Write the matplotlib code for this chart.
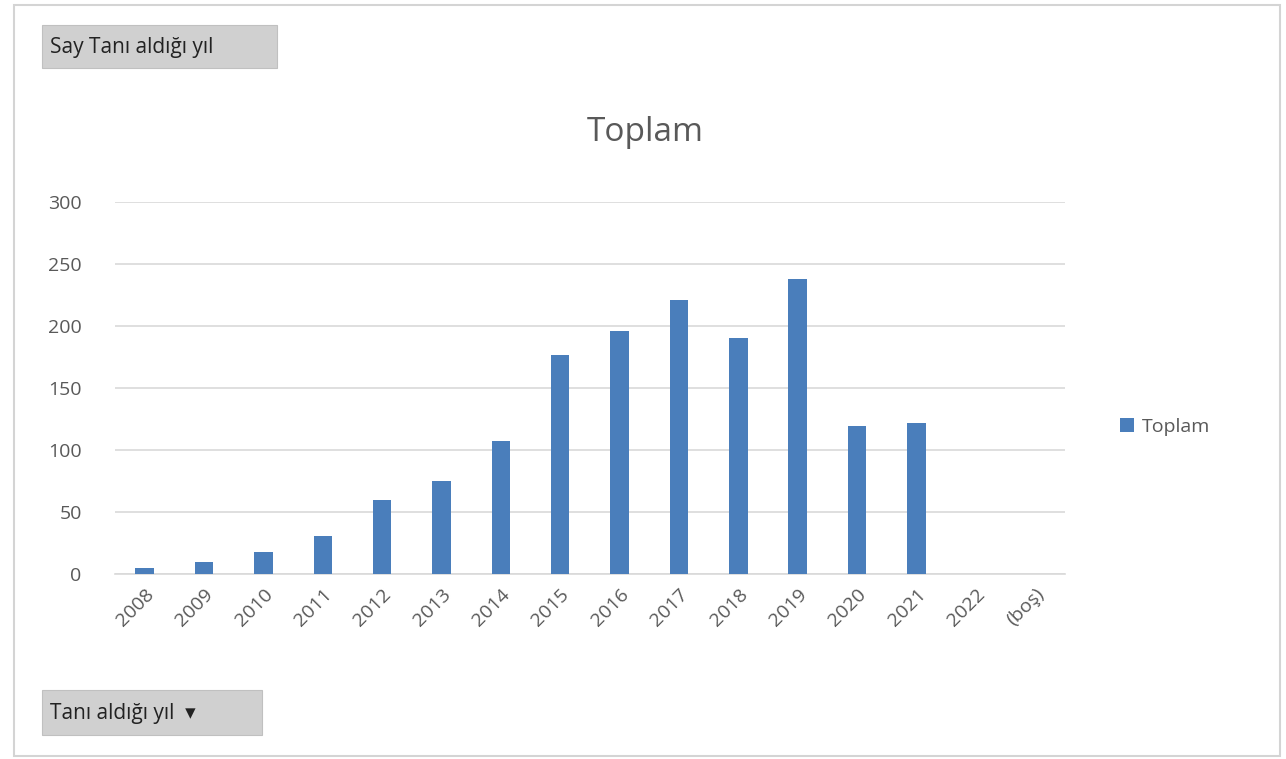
import matplotlib.pyplot as plt
from matplotlib.patches import Rectangle

plt.rcParams['font.family'] = ['Open Sans', 'DejaVu Sans']

# data
years = ["2008", "2009", "2010", "2011", "2012", "2013", "2014", "2015",
         "2016", "2017", "2018", "2019", "2020", "2021", "2022", "(boş)"]
counts = [5, 10, 18, 31, 60, 75, 107, 177, 196, 221, 190, 238, 119, 122, 0, 0]
yticks = [0, 50, 100, 150, 200, 250, 300]

bar_color = "#4a7ebb"
text_color = "#595959"

fig = plt.figure(figsize=(12.86, 7.59), dpi=100)
ax = fig.add_axes([0.0894, 0.2437, 0.7386, 0.4902])

x = range(len(years))
ax.bar(x, counts, width=0.31, color=bar_color, label="Toplam", zorder=3)

ax.set_xlim(-0.5, len(years) - 0.5)
ax.set_ylim(0, 300)
ax.set_yticks(yticks)
ax.set_xticks(list(x))
ax.set_xticklabels(years, rotation=45, ha="right", rotation_mode="anchor")
ax.tick_params(axis="both", length=0, colors=text_color, labelsize=14)
ax.tick_params(axis="y", pad=24)
ax.tick_params(axis="x", pad=8)
ax.grid(axis="y", color="#d9d9d9", linewidth=1.2, zorder=0)
for s in ["top", "right", "left"]:
    ax.spines[s].set_visible(False)
ax.spines["bottom"].set_color("#d9d9d9")
ax.spines["bottom"].set_linewidth(1.2)

fig.text(0.5015, 0.825, "Toplam", ha="center", va="center", fontsize=24, color=text_color)

ax.legend(loc="center left", bbox_to_anchor=(1.04, 0.395), frameon=False,
          fontsize=14, handlelength=0.7, handleheight=0.7, handletextpad=0.4,
          labelcolor=text_color)

# outer chart frame
fig.patches.append(Rectangle((0.011, 0.004), 0.984, 0.989, transform=fig.transFigure,
                             fill=False, edgecolor="#d4d4d4", linewidth=1.5))

# pivot field buttons
fig.patches.append(Rectangle((42 / 1286, 1 - 68 / 759), 235 / 1286, 43 / 759,
                             transform=fig.transFigure, facecolor="#d0d0d0",
                             edgecolor="#c0c0c0", linewidth=0.8))
fig.text(50 / 1286, 1 - 47 / 759, "Say Tanı aldığı yıl", ha="left", va="center",
         fontsize=15, color="#222222")

fig.patches.append(Rectangle((42 / 1286, 1 - 735 / 759), 220 / 1286, 45 / 759,
                             transform=fig.transFigure, facecolor="#d0d0d0",
                             edgecolor="#c0c0c0", linewidth=0.8))
fig.text(50 / 1286, 1 - 713 / 759, "Tanı aldığı yıl  ▾", ha="left", va="center",
         fontsize=15, color="#222222")

fig.savefig("out.png", dpi=100)
